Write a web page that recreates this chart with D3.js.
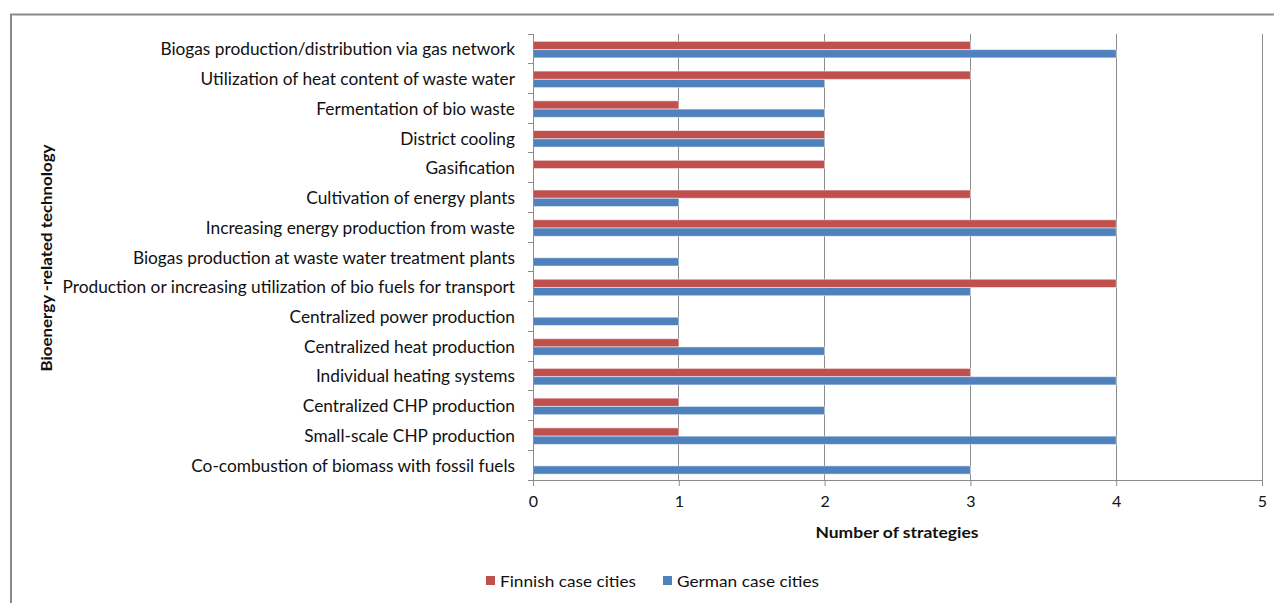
<!DOCTYPE html>
<html><head><meta charset="utf-8">
<script src="https://cdn.jsdelivr.net/npm/d3@7"></script>
<style>
html,body{margin:0;padding:0;background:#fff;}
svg{display:block;}
text{font-family:Lato,"Open Sans",sans-serif;fill:#111;}
</style></head><body>
<svg id="c" width="1274" height="603"></svg>
<script>
const categories = [
  "Biogas production/distribution via gas network",
  "Utilization of heat content of waste water",
  "Fermentation of bio waste",
  "District cooling",
  "Gasification",
  "Cultivation of energy plants",
  "Increasing energy production from waste",
  "Biogas production at waste water treatment plants",
  "Production or increasing utilization of bio fuels for transport",
  "Centralized power production",
  "Centralized heat production",
  "Individual heating systems",
  "Centralized CHP production",
  "Small-scale CHP production",
  "Co-combustion of biomass with fossil fuels"
];
const finnish = [3,3,1,2,2,3,4,0,4,0,1,3,1,1,0];
const german  = [4,2,2,2,0,1,4,1,3,1,2,4,2,4,3];
const seriesNames = ["Finnish case cities","German case cities"];
const seriesColors = ["#C0504D","#4F81BD"];
const xTicks = [0,1,2,3,4,5];

const svg = d3.select("#c");
// outer frame
svg.append("path").attr("d","M11,603 L11,14.5 L1274,14.5").attr("fill","none").attr("stroke","#8a8a8a").attr("stroke-width",2);

const pL=533, pR=1262, pT=34, pB=480;
const x = d3.scaleLinear().domain([0,5]).range([pL,pR]);
const y = d3.scaleBand().domain(categories).range([pT,pB]);
const inner = d3.scaleBand().domain(seriesNames).range([y.bandwidth()/2-7.5, y.bandwidth()/2+9]);

// gridlines
svg.append("g").selectAll("line").data(xTicks.slice(1)).join("line")
  .attr("x1",d=>x(d)).attr("x2",d=>x(d)).attr("y1",pT).attr("y2",pB)
  .attr("stroke","#8c8c8c").attr("stroke-width",1).attr("shape-rendering","crispEdges");

// bars
const series = [finnish, german];
series.forEach((vals,si)=>{
  svg.append("g").selectAll("rect").data(vals).join("rect")
    .attr("x",x(0)).attr("y",(d,i)=>y(categories[i])+inner(seriesNames[si]))
    .attr("width",d=>x(d)-x(0)).attr("height",inner.bandwidth())
    .attr("fill",seriesColors[si])
    .attr("stroke",d=>d>0?"#ffffff":"none").attr("stroke-opacity",0.5).attr("stroke-width",1);
});

// y axis
const yAxis = d3.axisLeft(y).tickSize(0).tickPadding(18);
const gy = svg.append("g").attr("transform",`translate(${pL},1)`).call(yAxis);
gy.select(".domain").remove();
gy.selectAll("text").style("font-size","17.3px").attr("fill","#111").attr("font-family","Lato");
svg.append("line").attr("x1",pL).attr("x2",pL).attr("y1",pT).attr("y2",pB).attr("stroke","#8c8c8c").attr("shape-rendering","crispEdges");
svg.append("g").selectAll("line").data(categories.concat(["_end"])).join("line")
  .attr("x1",pL-5).attr("x2",pL)
  .attr("y1",(d,i)=>pT+i*y.step()).attr("y2",(d,i)=>pT+i*y.step())
  .attr("stroke","#8c8c8c").attr("shape-rendering","crispEdges");

// x axis
const xAxis = d3.axisBottom(x).tickValues(xTicks).tickSize(6).tickPadding(10).tickFormat(d3.format("d"));
const gx = svg.append("g").attr("transform",`translate(0,${pB})`).call(xAxis);
gx.select(".domain").attr("stroke","#8c8c8c").attr("d",`M${pL},0.5H${pR}`);
gx.selectAll(".tick line").attr("stroke","#8c8c8c");
gx.selectAll("text").style("font-size","16px").attr("fill","#111").attr("font-family","Lato");

// axis titles
svg.append("text").attr("x",897).attr("y",538).attr("text-anchor","middle")
  .attr("textLength",163).attr("lengthAdjust","spacingAndGlyphs")
  .style("font-size","16px").style("font-weight","bold").text("Number of strategies");
svg.append("text").attr("transform","translate(52,258) rotate(-90)").attr("text-anchor","middle")
  .attr("textLength",227).attr("lengthAdjust","spacingAndGlyphs")
  .style("font-size","16px").style("font-weight","bold").text("Bioenergy -related technology");

// legend
const lg = svg.append("g");
const legendX = [486, 663];
const legendW = [136, 142];
seriesNames.forEach((n,i)=>{
  lg.append("rect").attr("x",legendX[i]).attr("y",576).attr("width",9).attr("height",9).attr("fill",seriesColors[i]);
  lg.append("text").attr("x",legendX[i]+14).attr("y",587)
    .attr("textLength",legendW[i]).attr("lengthAdjust","spacingAndGlyphs")
    .style("font-size","16px").text(n);
});
</script></body></html>
